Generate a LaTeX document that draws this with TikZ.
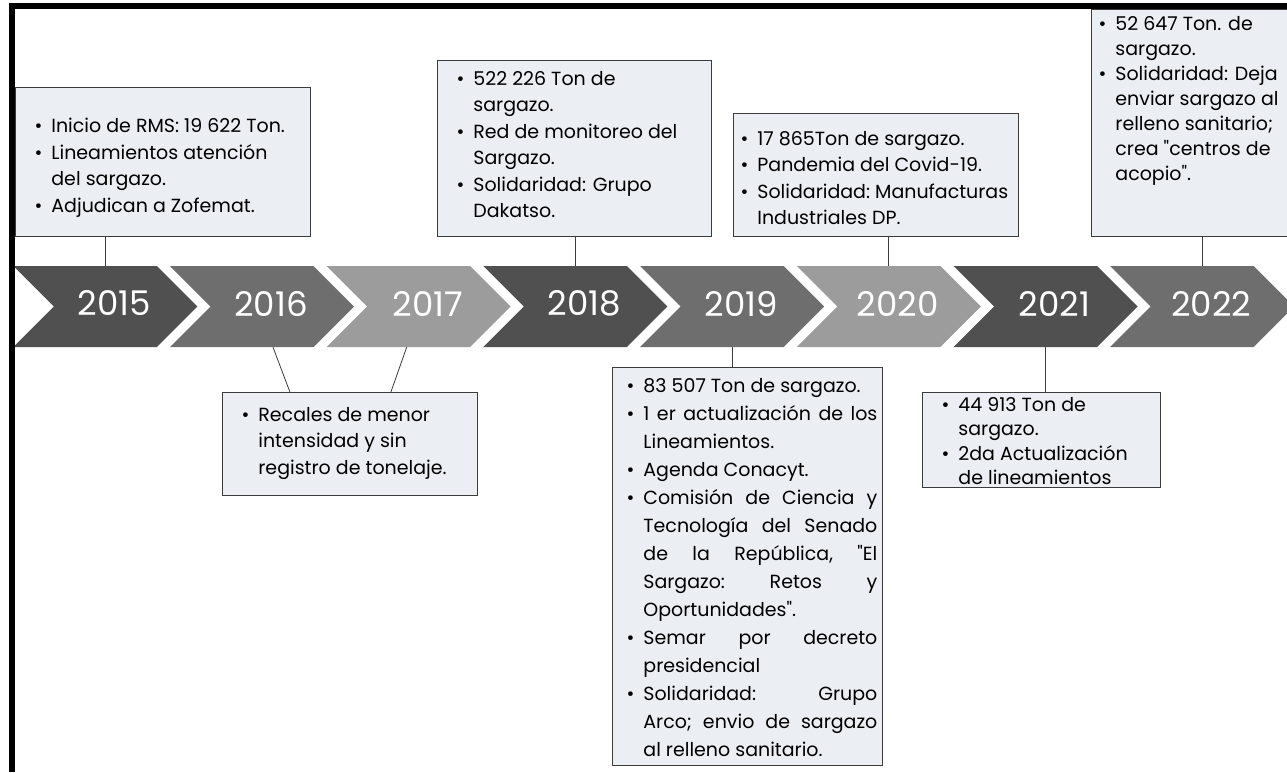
\documentclass[tikz,border=0pt]{standalone}
\usepackage{fontspec}
\setmainfont{Poppins}
\usepackage{enumitem}
\usetikzlibrary{shapes.symbols, positioning}

\definecolor{chevdark}{HTML}{505050}
\definecolor{chevmid}{HTML}{6E6E6E}
\definecolor{chevlight}{HTML}{9C9C9C}
\definecolor{boxfill}{HTML}{EBEEF3}
\definecolor{boxline}{HTML}{3C3C3C}

\newcommand{\boxfont}{\fontsize{19}{26.5}\selectfont}
\newcommand{\yearfont}{\fontsize{34}{34}\selectfont}
% box height, text width, top gap, list
\newcommand{\infotext}[4]{\parbox[c][#1][t]{#2}{\vspace*{#3}#4}}

\setlist[itemize]{label=\textbullet, leftmargin=31pt, labelsep=9pt, itemsep=0pt, topsep=0pt, parsep=0pt, partopsep=0pt}

\tikzset{
  chev/.style={signal, signal from=west, signal to=east, signal pointer angle=90,
    minimum width=184pt, minimum height=81pt, inner sep=0pt, fill=#1},
  yearlbl/.style={text=white, font=\yearfont, xshift=9pt, yshift=3pt},
  info/.style={draw=boxline, line width=0.8pt, fill=boxfill, inner xsep=5pt,
    inner ysep=0pt, font=\boxfont},
  link/.style={draw=boxline, line width=0.8pt}
}

\begin{document}
\begin{tikzpicture}[x=1pt, y=-1pt]
\useasboundingbox (0,0) rectangle (1287,772);
\fill[white] (0,0) rectangle (1287,772);

\foreach \yr/\col [count=\k from 0] in {2015/chevdark, 2016/chevmid, 2017/chevlight,
    2018/chevdark, 2019/chevmid, 2020/chevlight, 2021/chevdark, 2022/chevmid}
  \node[chev=\col, label={[yearlbl]center:\yr}] (c\yr) at ({105.3+156.7*\k}, 306.5) {};

% upper boxes
\node[info, anchor=north west] (b2015) at (15,87) {\infotext{149pt}{285pt}{31pt}{%
  \raggedright
  \begin{itemize}
  \item Inicio de RMS: 19~622~Ton.
  \item Lineamientos atención\newline del sargazo.
  \item Adjudican a Zofemat.
  \end{itemize}}};
\node[info, anchor=north west] (b2018) at (437,60) {\infotext{176pt}{264pt}{11pt}{%
  \raggedright
  \begin{itemize}
  \item 522 226 Ton de\newline sargazo.
  \item Red de monitoreo del\newline Sargazo.
  \item Solidaridad: Grupo\newline Dakatso.
  \end{itemize}}};
\node[info, anchor=north west] (b2020) at (733,113) {\infotext{123pt}{275pt}{18pt}{%
  \raggedright
  \begin{itemize}[leftmargin=19pt]
  \item 17 865Ton de sargazo.
  \item Pandemia del Covid-19.
  \item Solidaridad:~Manufacturas\newline Industriales DP.
  \end{itemize}}};
\node[info, anchor=north west, font={\fontsize{19}{25}\selectfont}] (b2022) at (1091,9)
  {\infotext{227pt}{192pt}{7pt}{%
  \raggedright
  \begin{itemize}[leftmargin=19pt]
  \item 52 647 Ton. de\newline sargazo.
  \item Solidaridad: Deja\newline enviar sargazo al\newline relleno sanitario;\newline
    crea \textquotedbl centros de\newline acopio\textquotedbl.
  \end{itemize}}};

% lower boxes
\node[info, anchor=north west] (b1617) at (222,392) {\infotext{103pt}{245pt}{15pt}{%
  \raggedright
  \begin{itemize}
  \item Recales de menor\newline intensidad y sin\newline registro de tonelaje.
  \end{itemize}}};
\node[info, anchor=north west, font={\fontsize{19}{28}\selectfont}] (b2019) at (612,367)
  {\infotext{398pt}{260pt}{11pt}{%
  \begin{itemize}[leftmargin=26pt]
  \item 83~507~Ton~de~sargazo.
  \item 1~er~actualización~de~los\linebreak Lineamientos.
  \item Agenda Conacyt.
  \item Comisión~de~Ciencia~y\linebreak Tecnología~del~Senado\linebreak
    de~la~República,~\textquotedbl El\linebreak Sargazo:~Retos~y\linebreak
    Oportunidades\textquotedbl.
  \item Semar~por~decreto\linebreak presidencial
  \item Solidaridad:~Grupo\linebreak Arco;~envio~de~sargazo\linebreak al relleno sanitario.
  \end{itemize}}};
\node[info, anchor=north west, font={\fontsize{19}{24.5}\selectfont}] (b2021) at (922,392)
  {\infotext{95pt}{228pt}{5pt}{%
  \raggedright
  \begin{itemize}
  \item 44 913 Ton de\newline sargazo.
  \item 2da Actualización\newline de lineamientos
  \end{itemize}}};

\draw[link] (b2015.south -| c2015.north) -- (c2015.north);
\draw[link] (b2018.south -| c2018.north) -- (c2018.north);
\draw[link] (b2020.south -| c2020.north) -- (c2020.north);
\draw[link] (b2022.south -| c2022.north) -- (c2022.north);
\draw[link] ([xshift=11pt]c2016.south) -- ([xshift=-60pt]b1617.north);
\draw[link] ([xshift=-12pt]c2017.south) -- ([xshift=41pt]b1617.north);
\draw[link] (c2019.south) -- (b2019.north -| c2019.south);
\draw[link] (c2021.south) -- (b2021.north -| c2021.south);

% frame
\draw[line width=6.5pt, line join=miter] (12,772) -- (12,6) -- (1287,6);
\end{tikzpicture}
\end{document}
